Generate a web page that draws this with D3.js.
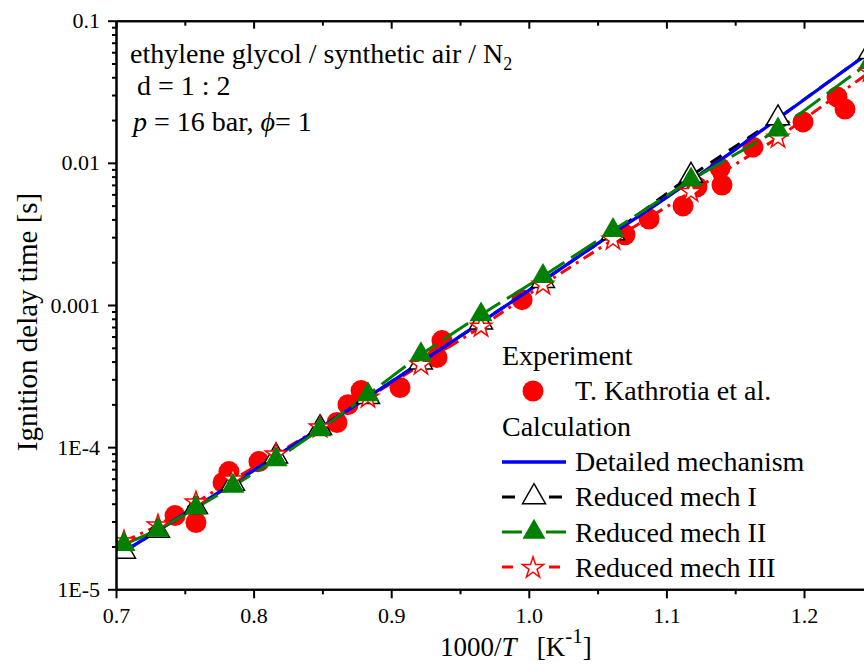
<!DOCTYPE html>
<html>
<head>
<meta charset="utf-8">
<script src="https://cdn.jsdelivr.net/npm/d3@7"></script>
<style>
  body { margin: 0; background: #fff; }
  svg { display: block; }
  text { font-family: "Liberation Serif", "Times New Roman", serif; fill: #000; }
</style>
</head>
<body>
<svg id="chart" width="864" height="670"></svg>
<script>
// Shock-tube ignition delay times, ethylene glycol / synthetic air / N2, p = 16 bar, phi = 1
// Experiment (T. Kathrotia et al.)
const expInvT = [0.7429, 0.7581, 0.7778, 0.7821, 0.8039, 0.8606, 0.8686, 0.8781, 0.9064, 0.9333, 0.9369,
                 0.9951, 1.0699, 1.0874, 1.1121, 1.1222, 1.1404, 1.1390, 1.1629, 1.1993, 1.2240, 1.2298];
const expTau  = [3.30e-5, 2.95e-5, 5.64e-5, 6.73e-5, 7.91e-5, 1.49e-4, 1.99e-4, 2.50e-4, 2.63e-4, 4.27e-4, 5.62e-4,
                 1.09e-3, 3.12e-3, 4.03e-3, 4.98e-3, 6.77e-3, 6.98e-3, 9.20e-3, 1.29e-2, 1.94e-2, 2.91e-2, 2.39e-2];

// Detailed mechanism
const detInvT = [0.70, 0.75, 0.80, 0.85, 0.90, 0.95, 1.00, 1.05, 1.10, 1.15, 1.20, 1.25];
const detTau  = [1.70e-5, 3.40e-5, 6.85e-5, 1.396e-4, 2.884e-4, 6.01e-4, 1.268e-3, 2.704e-3, 5.70e-3, 1.24e-2, 2.78e-2, 6.24e-2];

// Reduced mechanisms, computed at the same set of temperatures
const redInvT = [0.7058, 0.7305, 0.7581, 0.7850, 0.8163, 0.8483, 0.8831, 0.9216, 0.9653, 1.0103, 1.0612, 1.1179, 1.1811, 1.2480];
const mech1Tau = [1.845e-5, 2.588e-5, 3.80e-5, 5.55e-5, 8.63e-5, 1.365e-4, 2.254e-4, 3.95e-4, 7.55e-4, 1.479e-3, 3.206e-3, 8.13e-3, 2.06e-2, 6.03e-2];
const mech2Tau = [2.07e-5, 2.61e-5, 3.74e-5, 5.32e-5, 8.18e-5, 1.33e-4, 2.34e-4, 4.48e-4, 8.55e-4, 1.592e-3, 3.35e-3, 7.59e-3, 1.706e-2, 5.13e-2];
const mech3Tau = [2.17e-5, 2.81e-5, 4.08e-5, 5.92e-5, 8.87e-5, 1.374e-4, 2.23e-4, 3.80e-4, 7.03e-4, 1.39e-3, 2.88e-3, 6.25e-3, 1.50e-2, 4.37e-2];

// Axis ticks
const xMajor = [0.7, 0.8, 0.9, 1.0, 1.1, 1.2];
const xMinor = [0.75, 0.85, 0.95, 1.05, 1.15, 1.25];
const yMajor = [1e-5, 1e-4, 1e-3, 1e-2, 1e-1];
const yLabels = ["1E-5", "1E-4", "0.001", "0.01", "0.1"];

const svg = d3.select("#chart");
const plotLeft = 116, plotTop = 20.7, plotBottom = 589.3;
const x = d3.scaleLinear().domain([0.7, 1.25]).range([plotLeft, plotLeft + 0.55 * 1376]);
const y = d3.scaleLog().domain([1e-5, 0.1]).range([plotBottom, plotTop]);

const zip = (xs, ys) => xs.map((v, i) => [v, ys[i]]);

svg.append("defs").append("clipPath").attr("id", "plot")
  .append("rect").attr("x", plotLeft).attr("y", plotTop).attr("width", 864 - plotLeft).attr("height", plotBottom - plotTop);

const plot = svg.append("g").attr("clip-path", "url(#plot)");

// experimental points (behind the model curves)
plot.append("g").selectAll("circle").data(zip(expInvT, expTau)).join("circle")
  .attr("cx", d => x(d[0])).attr("cy", d => y(d[1])).attr("r", 10.5).attr("fill", "#ff0000");

const line = d3.line().x(d => x(d[0])).y(d => y(d[1]));

plot.append("path").datum(zip(redInvT, mech3Tau)).attr("d", line)
  .attr("fill", "none").attr("stroke", "#ff0000").attr("stroke-width", 3).attr("stroke-dasharray", "12,6,3,6");
plot.append("path").datum(zip(redInvT, mech1Tau)).attr("d", line)
  .attr("fill", "none").attr("stroke", "#000").attr("stroke-width", 3).attr("stroke-dasharray", "13,9");
plot.append("path").datum(zip(detInvT, detTau)).attr("d", d3.line().curve(d3.curveMonotoneX).x(d => x(d[0])).y(d => y(d[1])))
  .attr("fill", "none").attr("stroke", "#0000ff").attr("stroke-width", 3.3);
plot.append("path").datum(zip(redInvT, mech2Tau)).attr("d", line)
  .attr("fill", "none").attr("stroke", "#007f00").attr("stroke-width", 3).attr("stroke-dasharray", "30,8");

const tri = d3.symbol().type(d3.symbolTriangle).size(229);
const star = d3.symbol().type(d3.symbolStar).size(140);

plot.append("g").selectAll("path").data(zip(redInvT, mech1Tau)).join("path")
  .attr("d", tri).attr("transform", d => `translate(${x(d[0])},${y(d[1])})`)
  .attr("fill", "#fff").attr("stroke", "#000").attr("stroke-width", 1.5);
plot.append("g").selectAll("path").data(zip(redInvT, mech3Tau)).join("path")
  .attr("d", star).attr("transform", d => `translate(${x(d[0])},${y(d[1])})`)
  .attr("fill", "#fff").attr("stroke", "#ff0000").attr("stroke-width", 1.5);
plot.append("g").selectAll("path").data(zip(redInvT, mech2Tau)).join("path")
  .attr("d", tri).attr("transform", d => `translate(${x(d[0])},${y(d[1])})`)
  .attr("fill", "#007f00");

// axes
function styleAxis(g) {
  g.select(".domain").attr("stroke", "#000").attr("stroke-width", 2);
  g.selectAll(".tick line").attr("stroke", "#000").attr("stroke-width", 2);
  g.selectAll(".tick text").attr("font-size", 22).attr("font-family", "Liberation Serif, Times New Roman, serif");
}

svg.append("g").attr("transform", `translate(0,${plotBottom})`)
  .call(d3.axisBottom(x).tickValues(xMajor).tickSize(9).tickSizeOuter(0).tickPadding(9).tickFormat(d3.format(".1f")))
  .call(styleAxis);
svg.append("g").attr("transform", `translate(0,${plotBottom})`)
  .call(d3.axisBottom(x).tickValues(xMinor).tickSize(5).tickSizeOuter(0).tickFormat(""))
  .call(styleAxis);
svg.append("g").attr("transform", `translate(0,${plotTop})`)
  .call(d3.axisBottom(x).tickValues(xMajor).tickSize(8).tickSizeOuter(0).tickFormat(""))
  .call(styleAxis);
svg.append("g").attr("transform", `translate(0,${plotTop})`)
  .call(d3.axisBottom(x).tickValues(xMinor).tickSize(5).tickSizeOuter(0).tickFormat(""))
  .call(styleAxis);

const yMinor = [];
for (let e = -5; e < -1; e++) for (let m = 2; m <= 9; m++) yMinor.push(m * Math.pow(10, e));

svg.append("g").attr("transform", `translate(${plotLeft},0)`)
  .call(d3.axisLeft(y).tickValues(yMajor).tickSize(8).tickSizeOuter(0).tickPadding(8)
    .tickFormat((d, i) => yLabels[i]))
  .call(styleAxis);
svg.append("g").attr("transform", `translate(${plotLeft},0)`)
  .call(d3.axisLeft(y).tickValues(yMinor).tickSize(4).tickSizeOuter(0).tickFormat(""))
  .call(styleAxis);

// axis titles
svg.append("text").attr("transform", "translate(37,322) rotate(-90)")
  .attr("text-anchor", "middle").attr("font-size", 29).text("Ignition delay time [s]");

const xt = svg.append("text").attr("x", 440).attr("y", 656).attr("font-size", 27).style("white-space", "pre");
xt.append("tspan").text("1000/");
xt.append("tspan").attr("font-style", "italic").text("T");
xt.append("tspan").text("   [K");
xt.append("tspan").attr("font-size", 21).attr("dy", -13).text("-1");
xt.append("tspan").attr("dy", 13).text("]");

// condition annotation
const a1 = svg.append("text").attr("x", 130).attr("y", 63).attr("font-size", 28);
a1.append("tspan").text("ethylene glycol / synthetic air / N");
a1.append("tspan").attr("font-size", 18).attr("dy", 7).text("2");
svg.append("text").attr("x", 137).attr("y", 95).attr("font-size", 28).text("d = 1 : 2");
const a3 = svg.append("text").attr("x", 133).attr("y", 131).attr("font-size", 28).style("white-space", "pre");
a3.append("tspan").attr("font-style", "italic").text("p");
a3.append("tspan").text(" = 16 bar, ");
a3.append("tspan").attr("font-style", "italic").text("\u03D5");
a3.append("tspan").text("= 1");

// legend
const lg = svg.append("g");
const lx = 502, tx = 575;
lg.append("text").attr("x", lx).attr("y", 365).attr("font-size", 28).text("Experiment");
lg.append("circle").attr("cx", 533).attr("cy", 391).attr("r", 10.5).attr("fill", "#ff0000");
lg.append("text").attr("x", tx).attr("y", 400).attr("font-size", 28).text("T. Kathrotia et al.");
lg.append("text").attr("x", lx).attr("y", 436).attr("font-size", 28).text("Calculation");

lg.append("line").attr("x1", lx).attr("x2", 566).attr("y1", 462).attr("y2", 462)
  .attr("stroke", "#0000ff").attr("stroke-width", 3.3);
lg.append("text").attr("x", tx).attr("y", 471).attr("font-size", 28).text("Detailed mechanism");

function legendSeg(cy, color, segs) {
  segs.forEach(s => lg.append("line").attr("x1", s[0]).attr("x2", s[1]).attr("y1", cy).attr("y2", cy)
    .attr("stroke", color).attr("stroke-width", 3));
}
legendSeg(497, "#000", [[502, 515], [549, 562]]);
lg.append("path").attr("d", tri).attr("transform", "translate(534,497)")
  .attr("fill", "#fff").attr("stroke", "#000").attr("stroke-width", 1.5);
lg.append("text").attr("x", tx).attr("y", 506).attr("font-size", 28).text("Reduced mech I");

legendSeg(532, "#007f00", [[502, 522], [546, 566]]);
lg.append("path").attr("d", tri).attr("transform", "translate(534,532)").attr("fill", "#007f00");
lg.append("text").attr("x", tx).attr("y", 542).attr("font-size", 28).text("Reduced mech II");

legendSeg(567, "#ff0000", [[502, 513], [549, 560]]);
lg.append("path").attr("d", star).attr("transform", "translate(533,568)")
  .attr("fill", "#fff").attr("stroke", "#ff0000").attr("stroke-width", 1.5);
lg.append("text").attr("x", tx).attr("y", 577).attr("font-size", 28).text("Reduced mech III");
</script>
</body>
</html>
